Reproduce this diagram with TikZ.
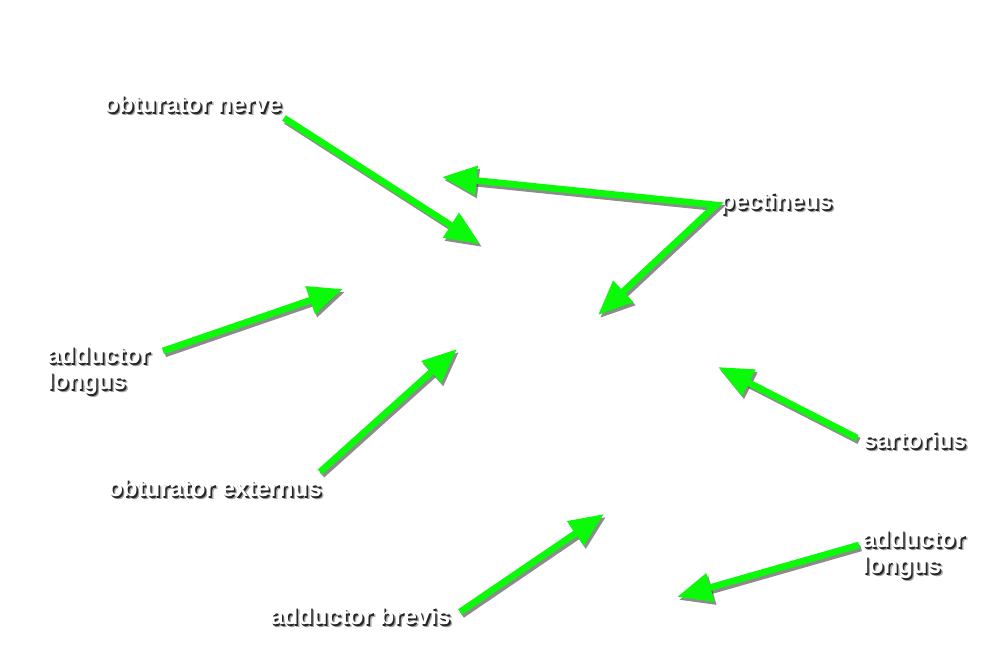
\documentclass[tikz,border=0pt]{standalone}
\usepackage{fontspec}
\setmainfont{Liberation Sans}
\usetikzlibrary{arrows.meta}

\definecolor{pointergreen}{RGB}{10,250,10}

\tikzset{
  lbl/.style={font=\bfseries\fontsize{18}{19.5}\selectfont, inner sep=0pt, align=left, text=white},
  lblshadow/.style={lbl, text=black!85},
  lblblur/.style={lbl, text=black, opacity=.35},
  pointer/.style={-{Triangle[length=26pt,width=21pt]}, line width=5pt, draw=pointergreen},
  pointershadow/.style={pointer, draw=black!75, opacity=.6}
}

% label with a drop shadow: name, position, anchor, text
\newcommand\muscle[4]{%
  \node[lblblur, anchor=#3] at ([shift={(2.2pt,-2.6pt)}]#2) {#4};
  \node[lblshadow, anchor=#3] at ([shift={(1.2pt,-1.5pt)}]#2) {#4};
  \node[lbl, anchor=#3] (#1) at (#2) {#4};
}

\begin{document}
\begin{tikzpicture}[x=0.75pt, y=-0.75pt]
  \useasboundingbox[fill=white] (0,0) rectangle (1000,664);

  % labels (two-line labels sit on their last line)
  \muscle{onlbl}{104,112}{base west}{obturator nerve}
  \muscle{pelbl}{720,209}{base west}{pectineus}
  \muscle{allbl}{47,389}{base west}{adductor\\longus}
  \muscle{oelbl}{108,496}{base west}{obturator externus}
  \muscle{salbl}{863,448}{base west}{sartorius}
  \muscle{ablbl}{270,624}{base west}{adductor brevis}
  \muscle{arlbl}{862,573}{base west}{adductor\\longus}

  % arrow ends
  \coordinate (on0) at (284,118);  \coordinate (on1) at (480,244);
  \coordinate (pe1) at (442,177);  \coordinate (pe0) at (716,205);
  \coordinate (pe2) at (598,315);
  \coordinate (al0) at (163,351);  \coordinate (al1) at (343,289);
  \coordinate (oe0) at (320,472);  \coordinate (oe1) at (457,349);
  \coordinate (sa0) at (857,438);  \coordinate (sa1) at (718,367);
  \coordinate (ab0) at (460,612);  \coordinate (ab1) at (604,514);
  \coordinate (ar0) at (859,545);  \coordinate (ar1) at (677,597);

  % shadows first, then the green arrows
  \foreach \a/\b in {on0/on1, al0/al1, oe0/oe1, sa0/sa1, ab0/ab1, ar0/ar1} {
    \draw[pointershadow, transform canvas={shift={(1.5pt,-2.2pt)}}] (\a) -- (\b);
    \draw[pointer] (\a) -- (\b);
  }
  \draw[pointershadow, {Triangle[length=26pt,width=21pt]}-{Triangle[length=26pt,width=21pt]},
        transform canvas={shift={(1.5pt,-2.2pt)}}] (pe1) -- (pe0) -- (pe2);
  \draw[pointer, {Triangle[length=26pt,width=21pt]}-{Triangle[length=26pt,width=21pt]}]
        (pe1) -- (pe0) -- (pe2);
\end{tikzpicture}
\end{document}
